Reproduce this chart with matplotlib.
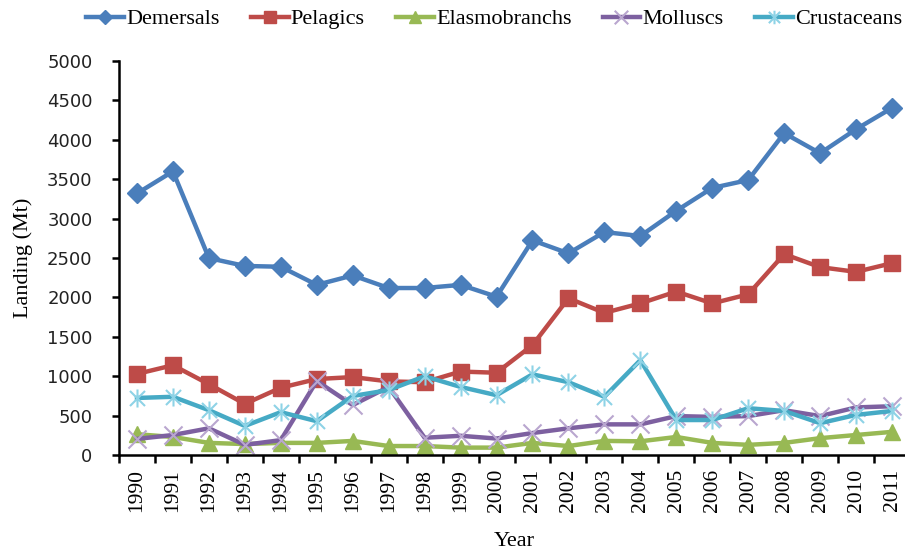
import numpy as np
import matplotlib
matplotlib.use("Agg")
import matplotlib.pyplot as plt
from matplotlib.path import Path

years = list(range(1990, 2012))

demersals = [3320, 3600, 2500, 2400, 2390, 2160, 2280, 2120, 2120, 2160, 2010,
             2725, 2560, 2830, 2780, 3100, 3390, 3490, 4085, 3830, 4135, 4405]
pelagics = [1030, 1140, 900, 650, 855, 965, 990, 935, 925, 1060, 1045,
            1395, 1990, 1805, 1925, 2075, 1925, 2040, 2550, 2385, 2325, 2435]
elasmobranchs = [265, 230, 155, 140, 155, 155, 180, 115, 115, 95, 95,
                 155, 115, 180, 175, 230, 155, 130, 155, 215, 255, 295]
molluscs = [205, 255, 340, 130, 190, 940, 635, 865, 220, 245, 210,
            280, 340, 390, 390, 495, 485, 495, 570, 495, 605, 620]
crustaceans = [725, 740, 570, 370, 545, 430, 750, 825, 1000, 865, 760,
               1025, 925, 740, 1205, 445, 445, 595, 560, 405, 510, 560]

names = ["Demersals", "Pelagics", "Elasmobranchs", "Molluscs", "Crustaceans"]
series = [demersals, pelagics, elasmobranchs, molluscs, crustaceans]
colors = ["#4A7EBB", "#BE4B48", "#98B954", "#7D60A0", "#46AAC5"]

# excel style star marker: an x with a vertical bar through it
star = Path([(-1, -1), (1, 1), (-1, 1), (1, -1), (0, -1.2), (0, 1.2)],
            [Path.MOVETO, Path.LINETO, Path.MOVETO, Path.LINETO, Path.MOVETO, Path.LINETO])
xmark = Path([(-1, -1), (1, 1), (-1, 1), (1, -1)],
             [Path.MOVETO, Path.LINETO, Path.MOVETO, Path.LINETO])

styles = [
    dict(marker="D", ms=10, mfc=colors[0], mec=colors[0]),
    dict(marker="s", ms=12, mfc=colors[1], mec=colors[1]),
    dict(marker="^", ms=12, mfc=colors[2], mec=colors[2]),
    dict(marker=xmark, ms=13, mfc="none", mec="#B9A6CF", mew=1.5),
    dict(marker=star, ms=13, mfc="none", mec="#8ED3E6", mew=1.5),
]

fig = plt.figure(figsize=(9.05, 5.55), dpi=100)
ax = fig.add_axes([119 / 905, 0.18, 791 / 905, 0.71])

for name, vals, c, st in zip(names, series, colors, styles):
    ax.plot(years, vals, color=c, lw=3.2, label=name, **st)

ax.set_xlim(1989.5, 2011.5)
ax.set_ylim(0, 5000)
ax.set_yticks(np.arange(0, 5001, 500))
ax.set_xticks(years)
ax.set_xticks(np.arange(1989.5, 2012, 1), minor=True)

ax.spines["top"].set_visible(False)
ax.spines["right"].set_visible(False)
ax.spines["left"].set_linewidth(1.8)
ax.spines["bottom"].set_linewidth(1.8)

ax.tick_params(axis="x", which="major", length=0, pad=10)
ax.tick_params(axis="x", which="minor", length=6, width=1.8, direction="out")
ax.tick_params(axis="y", length=5, width=1.8, direction="out", pad=14)

for lbl in ax.get_yticklabels():
    lbl.set_fontfamily("DejaVu Sans")
    lbl.set_fontsize(13)
    lbl.set_color("#222222")
for lbl in ax.get_xticklabels():
    lbl.set_fontfamily("Liberation Serif")
    lbl.set_fontsize(15.5)
    lbl.set_rotation(90)

ax.set_ylabel("Landing (Mt)", family="Liberation Serif", fontsize=16, labelpad=10)
ax.set_xlabel("Year", family="Liberation Serif", fontsize=16, labelpad=14)

fig.legend(loc="upper center", bbox_to_anchor=(0.546, 1.02), ncol=5, frameon=False,
           prop={"family": "Liberation Serif", "size": 16}, handlelength=1.7,
           handletextpad=0.1, columnspacing=1.4, markerscale=0.75)

fig.savefig("out.png", dpi=100)
